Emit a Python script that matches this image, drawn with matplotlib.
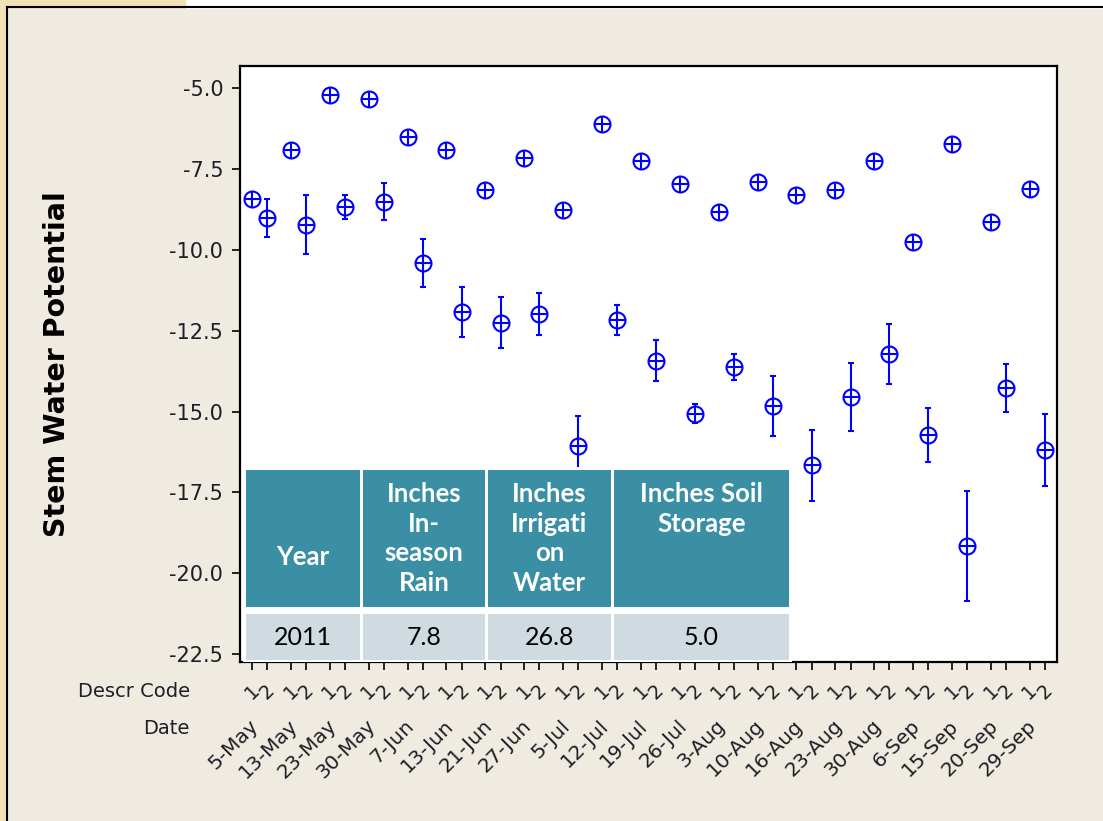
import matplotlib
matplotlib.use('Agg')
import matplotlib.pyplot as plt
from matplotlib.patches import Rectangle
from matplotlib.lines import Line2D
import numpy as np

plt.rcParams['axes.unicode_minus'] = False
plt.rcParams['font.family'] = ['DejaVu Sans']

# data
dates = ['5-May', '13-May', '23-May', '30-May', '7-Jun', '13-Jun', '21-Jun', '27-Jun',
         '5-Jul', '12-Jul', '19-Jul', '26-Jul', '3-Aug', '10-Aug', '16-Aug', '23-Aug',
         '30-Aug', '6-Sep', '15-Sep', '20-Sep', '29-Sep']
codes = ['1', '2']
swp_code1 = [-8.43, -6.92, -5.22, -5.35, -6.52, -6.92, -8.16, -7.17, -8.76, -6.12, -7.26,
             -7.98, -8.84, -7.91, -8.30, -8.16, -7.26, -9.76, -6.73, -9.15, -8.11]
swp_code2 = [-9.02, -9.23, -8.68, -8.51, -10.41, -11.92, -12.26, -11.98, -16.06, -12.17, -13.43,
             -15.07, -13.62, -14.83, -16.66, -14.55, -13.22, -15.72, -19.16, -14.27, -16.19]
err_code2 = [0.60, 0.91, 0.36, 0.56, 0.73, 0.77, 0.79, 0.65, 0.93, 0.45, 0.63,
             0.29, 0.40, 0.93, 1.10, 1.05, 0.93, 0.83, 1.70, 0.73, 1.11]
yticks = [-5.0, -7.5, -10.0, -12.5, -15.0, -17.5, -20.0, -22.5]

tbl_header = ['Year', 'Inches\nIn-\nseason\nRain', 'Inches\nIrrigati\non\nWater', 'Inches Soil\nStorage']
tbl_values = ['2011', '7.8', '26.8', '5.0']

blue = '#0000FF'
bg = '#EFEBE0'
teal = '#3A8FA4'
light = '#CFDBE1'
txt = '#1E1E28'

W, H = 1103, 821
fig = plt.figure(figsize=(W / 100, H / 100), dpi=100, facecolor=bg)

# window frame bits
fig.patches.append(Rectangle((0, 0), 7 / W, 1, transform=fig.transFigure, color='#F2E2B6', zorder=0))
fig.patches.append(Rectangle((0, 1 - 8 / H), 1, 8 / H, transform=fig.transFigure, color='white', zorder=0))
fig.patches.append(Rectangle((0, 1 - 8 / H), 185 / W, 8 / H, transform=fig.transFigure, color='#F2E2B6', zorder=0))
fig.lines.append(Line2D([7 / W, 7 / W], [0, 1 - 7 / H], transform=fig.transFigure, color='black', lw=1.5))
fig.lines.append(Line2D([7 / W, 1], [1 - 7 / H, 1 - 7 / H], transform=fig.transFigure, color='black', lw=1.5))

ax = fig.add_axes([240 / W, (H - 662) / H, 817 / W, 596 / H])
ax.set_facecolor('white')

n = len(dates)
idx = np.arange(n)
step = 0.39
x1 = idx
x2 = idx + step

ms = 11.5
ax.errorbar(x2, swp_code2, yerr=err_code2, fmt='none', ecolor=blue, elinewidth=1.5,
            capsize=2.5, capthick=1.5, zorder=3)
for xs, ys in [(x1, swp_code1), (x2, swp_code2)]:
    ax.plot(xs, ys, ls='none', marker='o', ms=ms, mfc='white', mec=blue, mew=1.5, zorder=4)
    ax.plot(xs, ys, ls='none', marker='+', ms=ms, mec=blue, mew=1.5, zorder=5)

ax.set_ylim(-22.74, -4.32)
ax.set_xlim(-0.31, x2[-1] + 0.31)
ax.set_yticks(yticks)
ax.set_yticklabels([f'{v:.1f}' for v in yticks], fontsize=15, color=txt)

xt = np.ravel(np.column_stack([x1, x2]))
ax.set_xticks(xt)
ax.set_xticklabels(codes * n, fontsize=14, color=txt, rotation=45,
                   ha='center', va='center', rotation_mode='anchor')
ax.tick_params(axis='x', length=6, width=1.2, pad=15.5)
ax.tick_params(axis='y', length=6, width=1.2, pad=6)
for s in ax.spines.values():
    s.set_linewidth(1.6)
    s.set_color('black')

tr = ax.get_xaxis_transform()
for i, d in enumerate(dates):
    ax.text(i + 0.27, -0.0906, d, transform=tr, rotation=45, ha='right', va='top',
            fontsize=14.5, color=txt)
ax.text(-0.0612, -0.050, 'Descr Code', transform=ax.transAxes, ha='right', va='center',
        fontsize=14, color=txt)
ax.text(-0.0612, -0.111, 'Date', transform=ax.transAxes, ha='right', va='center',
        fontsize=14, color=txt)

ax.set_ylabel('Stem Water Potential', fontsize=20.5, fontweight='bold', color='black')
ax.yaxis.set_label_coords(-0.207, 0.50)

# table overlay (axes fraction)
col_px = [(246, 360), (363, 485), (488, 611), (614, 789)]
def fx(px):
    return (px - 240) / 817
def fy(py):
    return (662 - py) / 596

for (a, b), head, val in zip(col_px, tbl_header, tbl_values):
    ax.add_patch(Rectangle((fx(a), fy(607)), fx(b) - fx(a), fy(470) - fy(607),
                           transform=ax.transAxes, facecolor=teal, edgecolor='none', zorder=6))
    ax.add_patch(Rectangle((fx(a), fy(660)), fx(b) - fx(a), fy(614) - fy(660),
                           transform=ax.transAxes, facecolor=light, edgecolor='none', zorder=6))
    cx = fx((a + b) / 2)
    if head == 'Year':
        ax.text(cx, fy(557), head, transform=ax.transAxes, ha='center', va='center',
                fontsize=18.5, fontweight='bold', color='white', family='Lato', zorder=7)
    else:
        ax.text(cx, fy(482), head, transform=ax.transAxes, ha='center', va='top',
                fontsize=18.5, fontweight='bold', color='white', family='Lato',
                linespacing=1.28, zorder=7)
    ax.text(cx, fy(637), val, transform=ax.transAxes, ha='center', va='center',
            fontsize=18, color='black', family='Lato', zorder=7)
# white gap around the table
ax.add_patch(Rectangle((fx(243), fy(662)), fx(792) - fx(243), fy(467) - fy(662),
                       transform=ax.transAxes, facecolor='white', edgecolor='none', zorder=5.5))

fig.savefig('out.png', dpi=100, facecolor=bg)
